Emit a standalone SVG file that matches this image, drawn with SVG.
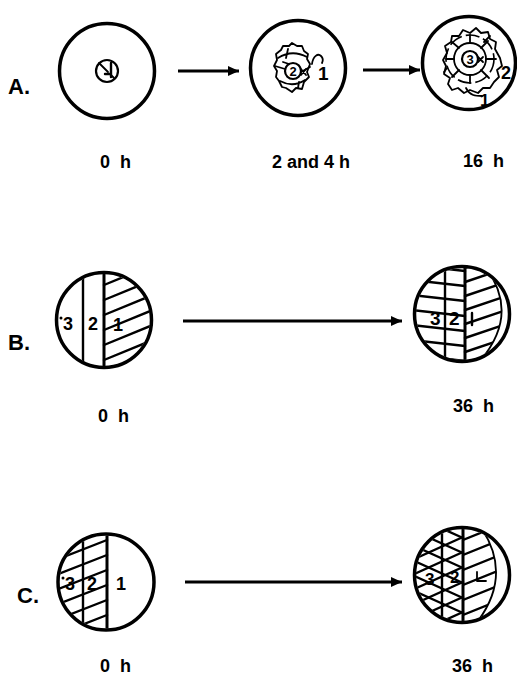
<svg xmlns="http://www.w3.org/2000/svg" width="517" height="677" viewBox="0 0 517 677">
  <style>
    .ring { fill: none; stroke: #000; stroke-width: 3.5; }
    .ln { fill: none; stroke: #000; stroke-width: 2.4; stroke-linecap: round; }
    .thin { fill: none; stroke: #000; stroke-width: 1.8; stroke-linecap: round; stroke-linejoin: round; }
    .blob { fill: #fff; stroke: #000; stroke-width: 1.8; stroke-linejoin: round; }
    .lbl { font-family: "Liberation Sans", Arial, sans-serif; font-weight: bold; font-size: 18px; fill: #000; }
    .panel { font-family: "Liberation Sans", Arial, sans-serif; font-weight: bold; font-size: 22px; fill: #000; }
    .num { font-family: "Liberation Sans", Arial, sans-serif; font-weight: bold; fill: #000; }
    .arrow { stroke: #000; stroke-width: 3; marker-end: url(#ah); }
  </style>
  <defs>
    <marker id="ah" markerWidth="12" markerHeight="11" refX="11" refY="5.5" orient="auto" markerUnits="userSpaceOnUse">
      <path d="M0,0.5 L11,5.5 L0,10.5 Z" fill="#000"/>
    </marker>
    <clipPath id="cB1"><circle cx="104" cy="320" r="46"/></clipPath>
    <clipPath id="cB2"><circle cx="462" cy="314" r="46"/></clipPath>
    <clipPath id="cB2r"><path d="M486,268 Q520,314 480,361 L463,361 L463,268 Z"/></clipPath>
    <clipPath id="cC1"><circle cx="106" cy="582" r="46.5"/></clipPath>
    <clipPath id="cC2"><circle cx="462" cy="575" r="46"/></clipPath>
    <clipPath id="cC2r"><path d="M482,529 Q512,575 478,621 L463,621 L463,529 Z"/></clipPath>
  </defs>
  <rect width="517" height="677" fill="#fff"/>

  <!-- panel letters -->
  <g id="panel-labels">
    <text class="panel" x="8" y="94">A.</text>
    <text class="panel" x="8" y="350">B.</text>
    <text class="panel" x="17" y="603">C.</text>
  </g>

  <!-- row A, 0 h -->
  <g id="a-0h">
    <circle class="ring" cx="107" cy="71" r="47.5"/>
    <circle cx="107" cy="71" r="11" fill="none" stroke="#000" stroke-width="2.2"/>
    <path class="thin" d="M99,63 L108,72 M111,75 L114,78"/>
    <path class="ln" d="M105,74 L111,74 M111,63 L111,77"/>
    <text class="lbl" x="100" y="168" word-spacing="5">0 h</text>
  </g>

  <!-- row A, 2 and 4 h -->
  <g id="a-2-4h">
    <circle class="ring" cx="298" cy="68" r="47.5"/>
    <path class="blob" d="M310,64 L307,72 L309,77 L304,82 L302,89 L296,88 L292,92 L286,88 L282,87 L279,81 L276,77 L277,71 L274,66 L277,60 L276,54 L281,50 L283,46 L289,46 L292,43 L297,46 L302,46 L304,51 L308,54 L307,59 Z"/>
    <path class="thin" d="M278,58 Q292,49 307,57 M280,81 Q293,88 305,80 M275,66 L285,69 M301,72 L310,67 M288,49 L286,58 M299,82 L298,88 M283,62 L289,64"/>
    <circle cx="293" cy="71" r="8" fill="none" stroke="#000" stroke-width="2.2"/>
    <text class="num" x="293" y="76" font-size="13" text-anchor="middle">2</text>
    <path class="thin" d="M301,69 L306,75 M306,69 L301,75"/>
    <path class="thin" d="M312,64 C313,56 318,53 321,56 C323,58 323,61 322,63"/>
    <text class="num" x="318" y="80" font-size="19">1</text>
    <text class="lbl" x="272" y="168">2 and 4 h</text>
  </g>

  <!-- row A, 16 h -->
  <g id="a-16h">
    <circle class="ring" cx="469" cy="63" r="46.5"/>
    <path class="blob" d="M500,58 L502,66 L497,70 L499,77 L494,82 L490,88 L483,88 L478,93 L470,90 L464,93 L458,88 L452,90 L448,84 L450,78 L444,74 L446,66 L443,60 L447,53 L445,46 L451,42 L452,36 L459,36 L463,30 L470,33 L476,28 L481,33 L488,32 L490,39 L496,42 L495,49 Z"/>
    <circle cx="470" cy="59" r="16" fill="none" stroke="#000" stroke-width="1.8"/>
    <circle cx="470" cy="59" r="24" fill="none" stroke="#000" stroke-width="1.6" stroke-dasharray="14 4"/>
    <path class="thin" d="M470,35 L470,43 M454,59 L446,59 M486,59 L496,59 M459,48 L452,42 M481,70 L489,78 M459,70 L452,77 M481,48 L488,41 M470,75 L470,83 M447,68 L444,72 M490,36 L484,42"/>
    <circle cx="470" cy="59" r="8" fill="none" stroke="#000" stroke-width="2.2"/>
    <text class="num" x="470" y="64" font-size="13" text-anchor="middle">3</text>
    <path class="thin" d="M478,57 L483,62 M483,57 L478,62"/>
    <text class="num" x="501" y="79" font-size="18">2</text>
    <path class="thin" d="M466,88 C470,96 476,96 482,96"/>
    <text class="num" x="480" y="106" font-size="17">1</text>
    <text class="lbl" x="463" y="167" word-spacing="5">16 h</text>
  </g>

  <!-- row B, 0 h -->
  <g id="b-0h">
    <g clip-path="url(#cB1)">
      <path class="ln" d="M83,260 L83,380"/>
      <path d="M104,260 L104,380" stroke="#000" stroke-width="3"/>
      <path class="ln" d="M104,285 L160,262 M104,300 L160,277 M104,315 L160,292 M104,330 L160,307 M104,345 L160,322 M104,360 L160,337 M104,375 L160,352"/>
    </g>
    <circle class="ring" cx="104" cy="320" r="47.5"/>
    <circle cx="61" cy="318" r="1.5" fill="#000"/>
    <text class="lbl" x="63" y="330">3</text>
    <text class="lbl" x="88" y="330">2</text>
    <text class="lbl" x="113" y="331">1</text>
    <text class="lbl" x="98" y="422" word-spacing="5">0 h</text>
  </g>

  <!-- row B, 36 h -->
  <g id="b-36h">
    <g clip-path="url(#cB2)">
      <path class="ln" d="M445,260 L445,370"/>
      <path d="M465,260 L465,370" stroke="#000" stroke-width="3"/>
      <path class="ln" d="M412,265 L465,271 M412,280 L465,286 M412,295 L465,301 M412,310 L465,316 M412,325 L465,331 M412,340 L465,346 M412,355 L465,361"/>
      <g clip-path="url(#cB2r)">
        <path class="ln" d="M465,282 L515,265 M465,296 L515,279 M465,310 L515,293 M465,324 L515,307 M465,338 L515,321 M465,352 L515,335 M465,366 L515,349 M465,268 L515,251"/>
      </g>
      <path class="thin" d="M486,268 Q520,314 480,361"/>
    </g>
    <circle class="ring" cx="462" cy="314" r="47.5"/>
    <text class="num" x="430" y="325" font-size="19">3</text>
    <text class="num" x="449" y="325" font-size="19">2</text>
    <path class="ln" d="M472,313 L472,325"/>
    <text class="lbl" x="453" y="412" word-spacing="5">36 h</text>
  </g>

  <!-- row C, 0 h -->
  <g id="c-0h">
    <g clip-path="url(#cC1)">
      <path class="ln" d="M83,520 L83,640"/>
      <path d="M107,520 L107,640" stroke="#000" stroke-width="3"/>
      <path class="ln" d="M56,545 L107,525 M56,560 L107,540 M56,575 L107,555 M56,590 L107,570 M56,605 L107,585 M56,620 L107,600 M56,635 L107,615 M56,650 L107,630"/>
    </g>
    <circle class="ring" cx="106" cy="582" r="48"/>
    <circle cx="63" cy="578" r="1.5" fill="#000"/>
    <text class="lbl" x="65" y="590">3</text>
    <text class="lbl" x="87" y="590">2</text>
    <text class="lbl" x="116" y="590">1</text>
    <text class="lbl" x="100" y="672" word-spacing="5">0 h</text>
  </g>

  <!-- row C, 36 h -->
  <g id="c-36h">
    <g clip-path="url(#cC2)">
      <path class="ln" d="M442,520 L442,630"/>
      <path d="M463,520 L463,630" stroke="#000" stroke-width="3"/>
      <path class="ln" d="M412,530 L463,507 M412,545 L463,522 M412,560 L463,537 M412,575 L463,552 M412,590 L463,567 M412,605 L463,582 M412,620 L463,597 M412,635 L463,612 M412,650 L463,627"/>
      <path class="ln" d="M412,500 L463,523 M412,515 L463,538 M412,530 L463,553 M412,545 L463,568 M412,560 L463,583 M412,575 L463,598 M412,590 L463,613 M412,605 L463,628"/>
      <g clip-path="url(#cC2r)">
        <path class="ln" d="M463,525 L515,504 M463,540 L515,519 M463,555 L515,534 M463,570 L515,549 M463,585 L515,564 M463,600 L515,579 M463,615 L515,594 M463,630 L515,609"/>
      </g>
      <path class="thin" d="M482,529 Q512,575 478,621"/>
      <path class="thin" d="M477,572 L477,581 L486,581"/>
    </g>
    <circle class="ring" cx="462" cy="575" r="47.5"/>
    <text class="num" x="425" y="585" font-size="17">3</text>
    <text class="num" x="450" y="583" font-size="17">2</text>
    <text class="lbl" x="452" y="672" word-spacing="5">36 h</text>
  </g>

  <!-- arrows between stages -->
  <g id="connectors">
    <line class="arrow" x1="178" y1="71" x2="239" y2="71"/>
    <line class="arrow" x1="363" y1="70" x2="420" y2="70"/>
    <line class="arrow" x1="183" y1="321" x2="402" y2="321"/>
    <line class="arrow" x1="185" y1="582" x2="402" y2="582"/>
  </g>
</svg>
